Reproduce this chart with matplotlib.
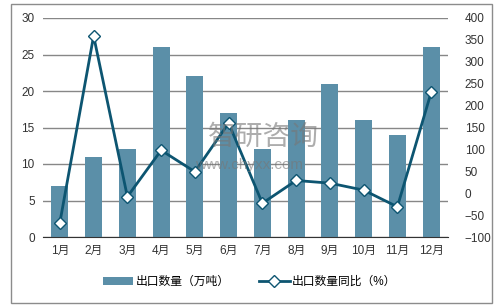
import matplotlib
matplotlib.use("Agg")
import matplotlib.pyplot as plt
from matplotlib.patches import Rectangle
import numpy as np

plt.rcParams['font.family'] = ['Liberation Sans', 'Noto Sans CJK SC', 'DejaVu Sans']

months = ['1月', '2月', '3月', '4月', '5月', '6月', '7月', '8月', '9月', '10月', '11月', '12月']
qty = [7, 11, 12, 26, 22, 17, 12, 16, 21, 16, 14, 26]
yoy = [-67, 359, -8, 98, 49, 160, -23, 29, 23, 7, -31, 230]

bar_color = '#5b8fa8'
line_color = '#0d5571'
grid_color = '#878787'

fig = plt.figure(figsize=(4.99, 3.08), dpi=100)
ax = fig.add_axes([43 / 499, 1 - 237 / 308, 405 / 499, 219 / 308])

# outer frame
fig.patches.append(Rectangle((11 / 499, 5 / 308), 481 / 499, 299 / 308,
                             transform=fig.transFigure, fill=False,
                             edgecolor='#8c8c8c', linewidth=1))

x = np.arange(len(months))
ax.bar(x, qty, width=0.5, color=bar_color, label='出口数量（万吨）', zorder=2)
ax.set_ylim(0, 30)
ax.set_yticks(range(0, 31, 5))
ax.set_xlim(-0.5, len(months) - 0.5)
ax.set_xticks(x)
ax.set_xticklabels(months)
ax.yaxis.grid(True, color=grid_color, linewidth=1)
ax.set_axisbelow(True)
for s in ['top', 'right', 'left']:
    ax.spines[s].set_visible(False)
ax.spines['bottom'].set_color('#333333')
ax.tick_params(axis='both', length=0, labelsize=8.5, colors='#333333', pad=6)

ax2 = ax.twinx()
ax2.plot(x, yoy, color=line_color, linewidth=2, marker='D', markersize=6,
         markerfacecolor='white', markeredgecolor=line_color, markeredgewidth=1,
         label='出口数量同比（%）', zorder=3)
ax2.set_ylim(-100, 400)
ax2.set_yticks(range(-100, 401, 50))
for s in ax2.spines.values():
    s.set_visible(False)
ax2.tick_params(axis='y', length=0, labelsize=8.5, colors='#333333', pad=12)

# watermark
fig.text(0.528, 1 - 138 / 308, '智研咨询', fontsize=20, color='#777777', alpha=0.6,
         ha='center', va='center', zorder=10)
fig.text(0.50, 1 - 165 / 308, 'www.chyxx.com', fontsize=11, color='#777777', alpha=0.6,
         ha='center', va='center', zorder=10)

h1, l1 = ax.get_legend_handles_labels()
h2, l2 = ax2.get_legend_handles_labels()
fig.legend(h1 + h2, l1 + l2, loc='center', bbox_to_anchor=(0.5, 1 - 282 / 308),
           ncol=2, frameon=False, fontsize=8.5, handlelength=2.6,
           columnspacing=2.5, handletextpad=0.2)

fig.savefig('out.png', dpi=100)
